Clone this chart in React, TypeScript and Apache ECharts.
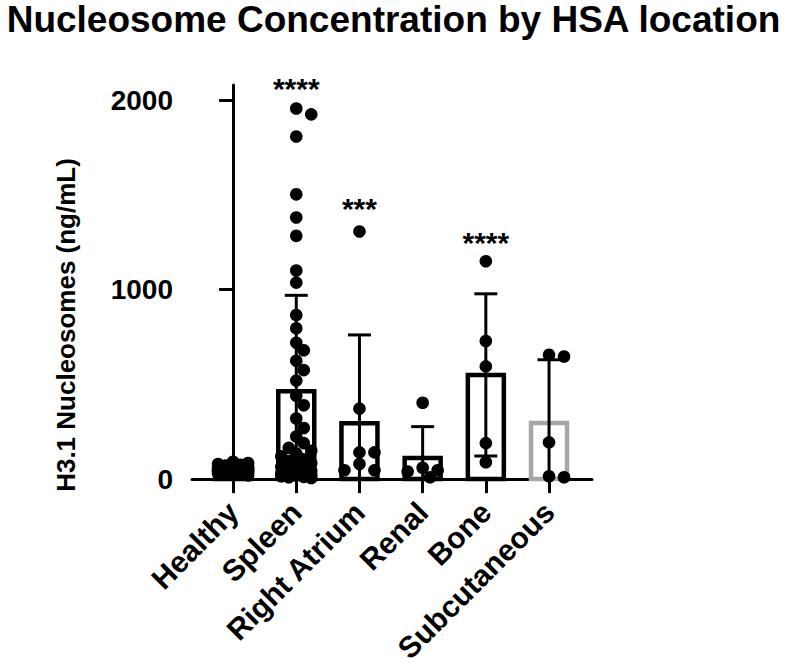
import React, { useEffect, useRef } from "react";
import * as echarts from "echarts";

const categories = ["Healthy", "Spleen", "Right Atrium", "Renal", "Bone", "Subcutaneous"];
const means = [50, 464, 295, 112, 550, 296];
const sds = [22, 506, 466, 165, 428, 334];
const barColors = ["#000000", "#000000", "#000000", "#000000", "#000000", "#a6a6a6"];

const healthy = [92, 85, 80, 76, 72, 68, 65, 63, 60, 58, 56, 54, 52, 50, 49, 47, 45, 44, 42, 40, 38, 36, 34, 32, 30, 27, 24, 20, 55, 46, 41, 62];
const spleen = [
  1956, 1925, 1808, 1503, 1381, 1284, 1101, 1037, 866, 796, 720, 680, 625, 575, 520,
  440, 390, 320, 270, 225, 190, 165, 150, 135, 120, 105, 95, 85, 75, 65, 58, 50, 44,
  38, 32, 30, 26, 22, 20, 15, 12, 10, 6,
];
const rightAtrium = [1307, 372, 141, 141, 80, 47, 47];
const renal = [403, 60, 47, 40, 10];
const bone = [1150, 729, 595, 190, 89];
const subcutaneous = [656, 647, 194, 15, 10];
const groups = [healthy, spleen, rightAtrium, renal, bone, subcutaneous];

const sigLabels = ["", "****", "***", "", "****", ""];
const sigValues = [0, 2060, 1428, 0, 1248, 0];

const yTicks = [0, 1000, 2000];
const xTicks = [0, 1, 2, 3, 4, 5];

const FONT = "'Liberation Sans', Arial, Helvetica, sans-serif";

function swarm(cx: number, ys: number[], r: number) {
  const order = ys.map((y, k) => k).sort((a, b) => ys[a] - ys[b]);
  const placed: { x: number; y: number }[] = [];
  const out: { x: number; y: number }[] = new Array(ys.length);
  const minD = r * 1.55;
  const step = 7.5;
  const maxOff = 15;
  for (const k of order) {
    const y = ys[k];
    const cands: number[] = [0];
    for (let s = step; s <= maxOff + 0.01; s += step) {
      cands.push(s, -s);
    }
    let best = 0;
    let bestD = -1;
    for (const off of cands) {
      let dmin = Infinity;
      for (const p of placed) {
        const d = Math.hypot(p.x - (cx + off), p.y - y);
        if (d < dmin) dmin = d;
      }
      if (dmin >= minD) {
        best = off;
        break;
      }
      if (dmin > bestD) {
        bestD = dmin;
        best = off;
      }
    }
    const pt = { x: cx + best, y };
    placed.push(pt);
    out[k] = pt;
  }
  return out;
}

export default function App() {
  const ref = useRef<HTMLDivElement>(null);
  useEffect(() => {
    if (!ref.current) return;
    const chart = echarts.init(ref.current, undefined, { renderer: "svg" });
    const option: any = {
      animation: false,
      backgroundColor: "#ffffff",
      title: {
        text: "Nucleosome Concentration by HSA location",
        left: "center",
        top: -4,
        textStyle: { fontFamily: FONT, fontSize: 37, fontWeight: "bold", color: "#000" },
      },
      graphic: [
        {
          type: "text",
          x: 66,
          y: 325,
          rotation: Math.PI / 2,
          style: {
            text: "H3.1 Nucleosomes (ng/mL)",
            fontFamily: FONT,
            fontSize: 26,
            fontWeight: "bold",
            fill: "#000",
            align: "center",
            verticalAlign: "middle",
          },
        },
      ],
      grid: { left: 192, right: 195, top: 85, bottom: 184, containLabel: false },
      xAxis: {
        type: "value",
        min: -0.65,
        max: 5.68,
        splitLine: { show: false },
        axisLine: { show: true, lineStyle: { color: "#000", width: 3 } },
        axisTick: { show: true, customValues: xTicks, length: 14, lineStyle: { color: "#000", width: 3 } },
        axisLabel: {
          customValues: xTicks,
          formatter: (v: number) => categories[Math.round(v)] ?? "",
          rotate: 45,
          margin: 28,
          fontFamily: FONT,
          fontSize: 30,
          fontWeight: "bold",
          color: "#000",
        },
      },
      yAxis: {
        type: "value",
        min: 0,
        max: 2080,
        splitLine: { show: false },
        axisLine: { show: true, lineStyle: { color: "#000", width: 3 } },
        axisTick: { show: true, customValues: yTicks, length: 14, lineStyle: { color: "#000", width: 3 } },
        axisLabel: {
          customValues: yTicks,
          formatter: (v: number) => String(v),
          margin: 19,
          fontFamily: FONT,
          fontSize: 28,
          fontWeight: "bold",
          color: "#000",
        },
      },
      series: [
        {
          type: "custom",
          name: "bars",
          z: 2,
          data: means.map((m, i) => [i, m]),
          renderItem: (params: any, api: any) => {
            const i = api.value(0);
            const m = api.value(1);
            const top = api.coord([i, m]);
            const base = api.coord([i, 0]);
            const w = 36;
            return {
              type: "rect",
              shape: { x: top[0] - w / 2, y: top[1], width: w, height: base[1] - top[1] },
              style: { fill: "none", stroke: barColors[i], lineWidth: 4.5 },
            };
          },
        },
        {
          type: "custom",
          name: "errors",
          z: 3,
          data: means.map((m, i) => [i, m, sds[i]]),
          renderItem: (params: any, api: any) => {
            const i = api.value(0);
            const m = api.value(1);
            const s = api.value(2);
            const hi = api.coord([i, m + s]);
            const loV = Math.max(0, m - s);
            const lo = api.coord([i, loV]);
            const cw = 11.5;
            const st = { stroke: "#000", lineWidth: 3 };
            const children: any[] = [
              { type: "line", shape: { x1: hi[0], y1: hi[1], x2: lo[0], y2: lo[1] }, style: st },
              { type: "line", shape: { x1: hi[0] - cw, y1: hi[1], x2: hi[0] + cw, y2: hi[1] }, style: st },
            ];
            if (m - s > 0) {
              children.push({ type: "line", shape: { x1: lo[0] - cw, y1: lo[1], x2: lo[0] + cw, y2: lo[1] }, style: st });
            }
            return { type: "group", children };
          },
        },
        {
          type: "custom",
          name: "points",
          z: 4,
          data: groups.map((g, i) => [i, 0]),
          renderItem: (params: any, api: any) => {
            const i = api.value(0);
            const vals = groups[i];
            const cx = api.coord([i, 0])[0];
            const ys = vals.map((v) => api.coord([i, v])[1]);
            const pts = swarm(cx, ys, 6.3);
            return {
              type: "group",
              children: pts.map((p) => ({
                type: "circle",
                shape: { cx: p.x, cy: p.y, r: 6.3 },
                style: { fill: "#000" },
              })),
            };
          },
        },
        {
          type: "custom",
          name: "sig",
          z: 5,
          data: sigLabels.map((s, i) => [i, sigValues[i]]),
          renderItem: (params: any, api: any) => {
            const i = api.value(0);
            const label = sigLabels[i];
            if (!label) return null;
            const p = api.coord([i, api.value(1)]);
            return {
              type: "text",
              x: p[0],
              y: p[1],
              style: {
                text: label,
                fontFamily: FONT,
                fontSize: 30,
                fontWeight: "bold",
                fill: "#000",
                align: "center",
                verticalAlign: "middle",
              },
            };
          },
        },
      ],
    };
    chart.setOption(option);
    return () => chart.dispose();
  }, []);
  return <div ref={ref} style={{ position: "fixed", left: 0, top: 0, width: 787, height: 666 }} />;
}
